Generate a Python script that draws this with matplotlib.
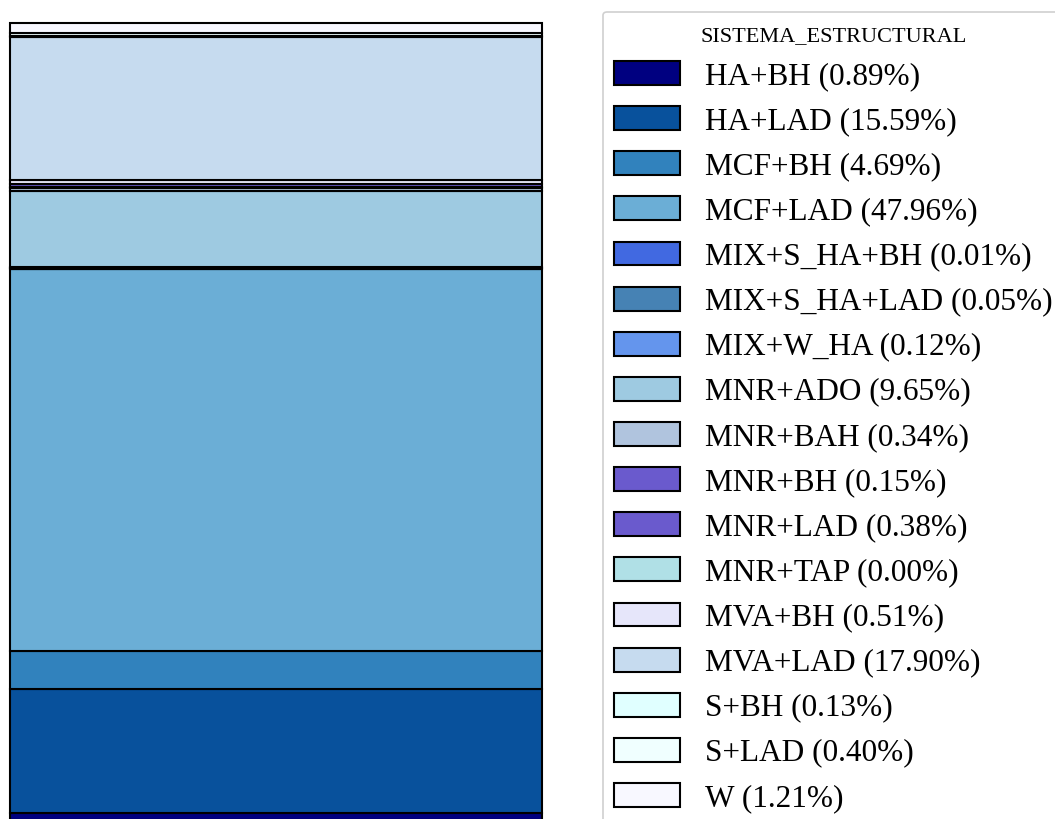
import matplotlib

matplotlib.use("Agg")
import matplotlib.pyplot as plt
from matplotlib.patches import FancyBboxPatch, Patch

# share of each structural system, stacked bottom to top
categories = [
    "HA+BH", "HA+LAD", "MCF+BH", "MCF+LAD", "MIX+S_HA+BH", "MIX+S_HA+LAD",
    "MIX+W_HA", "MNR+ADO", "MNR+BAH", "MNR+BH", "MNR+LAD", "MNR+TAP",
    "MVA+BH", "MVA+LAD", "S+BH", "S+LAD", "W",
]
percentages = [
    0.89, 15.59, 4.69, 47.96, 0.01, 0.05,
    0.12, 9.65, 0.34, 0.15, 0.38, 0.00,
    0.51, 17.90, 0.13, 0.40, 1.21,
]
colors = [
    "#000080", "#08519c", "#3182bd", "#6baed6", "#4169e1", "#4682b4",
    "#6495ed", "#9ecae1", "#b0c4de", "#6a5acd", "#6a5acd", "#b0e0e6",
    "#e6e6fa", "#c6dbef", "#e0ffff", "#f0ffff", "#f8f8ff",
]

W, H = 1055, 819
fig = plt.figure(figsize=(W / 100, H / 100), dpi=100)
ax = fig.add_axes([10 / W, -1 / H, 532 / W, 797 / H])

bottom = 0.0
for cat, pct, col in zip(categories, percentages, colors):
    ax.bar(0, pct, width=1.0, bottom=bottom, color=col, edgecolor="black",
           linewidth=1.5, clip_on=False)
    bottom += pct
ax.set_xlim(-0.5, 0.5)
ax.set_ylim(0, sum(percentages))
ax.axis("off")

# legend frame runs past the right and bottom edges
frame = FancyBboxPatch((603 / W, -0.05), 0.5, 1.05 - 12 / H,
                       boxstyle="round,pad=0,rounding_size=0.004",
                       transform=fig.transFigure, facecolor="white",
                       edgecolor="#d0d0d0", linewidth=1.2, zorder=0)
fig.patches.append(frame)

handles = [Patch(facecolor=c, edgecolor="black", linewidth=1.5) for c in colors]
labels = [f"{c} ({p:.2f}%)" for c, p in zip(categories, percentages)]
fig.legend(handles, labels, loc="upper left", bbox_to_anchor=(614 / W, 1 - 61 / H),
           frameon=False, borderpad=0, borderaxespad=0,
           prop={"family": "Liberation Serif", "size": 22.5},
           handlelength=2.1, handleheight=0.8, handletextpad=0.8,
           labelspacing=0.49)
fig.text(701 / W, 1 - 37 / H, "SISTEMA_ESTRUCTURAL", family="Liberation Serif",
         fontsize=16, va="center", ha="left")

fig.savefig("out.png", dpi=100)
